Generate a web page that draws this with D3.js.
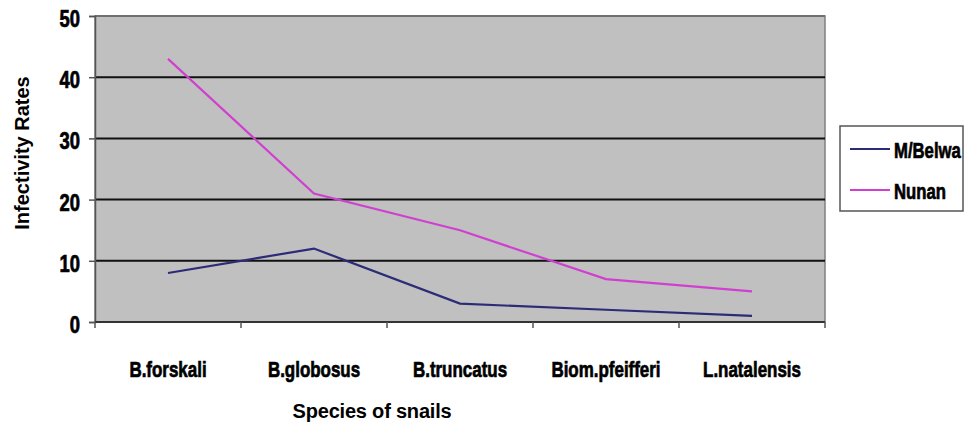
<!DOCTYPE html>
<html>
<head>
<meta charset="utf-8">
<script src="https://cdn.jsdelivr.net/npm/d3@7"></script>
<style>
  body { margin: 0; background: #fff; }
  text { font-family: "Liberation Sans", Arial, sans-serif; font-weight: bold; fill: #000; }
  text.heavy { stroke: #000; stroke-width: 0.7px; }
</style>
</head>
<body>
<svg id="chart" width="964" height="428"></svg>
<script>
// Infectivity rates of snail species at two sites
const categories = ["B.forskali", "B.globosus", "B.truncatus", "Biom.pfeifferi", "L.natalensis"];
const seriesNames = ["M/Belwa", "Nunan"];
const mBelwa = [8, 12, 3, 2, 1];
const nunan = [43, 21, 15, 7, 5];
const yTicks = [0, 10, 20, 30, 40, 50];
const colors = ["#2b2b78", "#d040d0"];

const series = [
  { name: seriesNames[0], values: mBelwa, color: colors[0] },
  { name: seriesNames[1], values: nunan, color: colors[1] }
];

const svg = d3.select("#chart");
const plot = { left: 95, right: 825, top: 16, bottom: 322 };

const x = d3.scaleBand().domain(categories).range([plot.left, plot.right]).padding(0);
const y = d3.scaleLinear().domain([0, 50]).range([plot.bottom, plot.top]);
const cx = d => x(d) + x.bandwidth() / 2;

// condensed heavy label: anchored at (px, py), squeezed horizontally by sx
function condensed(parent, px, py, str, size, sx, anchor) {
  const g = parent.append("g").attr("transform", `translate(${px},${py})`);
  g.append("text")
    .attr("class", "heavy")
    .attr("transform", `scale(${sx},1)`)
    .attr("text-anchor", anchor)
    .style("font-size", size + "px")
    .text(str);
  return g;
}

// plot background
svg.append("rect")
  .attr("x", plot.left).attr("y", plot.top)
  .attr("width", plot.right - plot.left).attr("height", plot.bottom - plot.top)
  .attr("fill", "#c0c0c0")
  .attr("stroke", "#808080").attr("stroke-width", 1.5);

// horizontal gridlines
svg.append("g").selectAll("line")
  .data(yTicks.filter(t => t > 0))
  .join("line")
  .attr("x1", plot.left).attr("x2", plot.right)
  .attr("y1", d => y(d)).attr("y2", d => y(d))
  .attr("stroke", d => d === 50 ? "#707070" : "#111")
  .attr("stroke-width", 2);

// y axis line and ticks
const yAxis = svg.append("g")
  .attr("transform", `translate(${plot.left},0)`)
  .call(d3.axisLeft(y).tickValues(yTicks).tickSize(6).tickFormat(""));
yAxis.select(".domain").attr("stroke", "#555").attr("stroke-width", 1.5);
yAxis.selectAll(".tick line").attr("stroke", "#555").attr("stroke-width", 1.5);

// y tick labels
const yLabels = svg.append("g");
yTicks.forEach(t => condensed(yLabels, plot.left - 15, y(t) + 11, d3.format("d")(t), 23, 0.8, "end"));

// x axis with ticks on category boundaries
const xAxisG = svg.append("g").attr("transform", `translate(0,${plot.bottom})`);
xAxisG.append("line")
  .attr("x1", plot.left).attr("x2", plot.right)
  .attr("stroke", "#333").attr("stroke-width", 2);
const boundaries = categories.map(c => x(c)).concat([plot.right]);
xAxisG.selectAll("line.tk")
  .data(boundaries)
  .join("line").attr("class", "tk")
  .attr("x1", d => d).attr("x2", d => d)
  .attr("y1", 0).attr("y2", 6)
  .attr("stroke", "#555").attr("stroke-width", 1.5);
categories.forEach(c => condensed(xAxisG, cx(c), 55, c, 22, 0.77, "middle"));

// series lines
const line = d3.line().x((v, i) => cx(categories[i])).y(v => y(v));
svg.append("g").selectAll("path")
  .data(series)
  .join("path")
  .attr("d", d => line(d.values))
  .attr("fill", "none")
  .attr("stroke", d => d.color)
  .attr("stroke-width", 2.2);

// axis titles
svg.append("text")
  .attr("transform", "translate(29,153) rotate(-90)")
  .attr("text-anchor", "middle")
  .style("font-size", "20px")
  .text("Infectivity Rates");
svg.append("text")
  .attr("x", 372).attr("y", 418)
  .attr("text-anchor", "middle")
  .style("font-size", "20px").style("letter-spacing", "-0.2px")
  .text("Species of snails");

// legend
const legend = svg.append("g");
legend.append("rect")
  .attr("x", 840).attr("y", 126).attr("width", 123).attr("height", 85)
  .attr("fill", "#fff").attr("stroke", "#555").attr("stroke-width", 1.5);
series.forEach((s, i) => {
  const item = legend.append("g").attr("transform", `translate(850,${149 + i * 41})`);
  item.append("line")
    .attr("x1", 0).attr("x2", 40)
    .attr("stroke", s.color).attr("stroke-width", 2.2);
  condensed(item, 44, 9, s.name, 22, 0.76, "start");
});
</script>
</body>
</html>
